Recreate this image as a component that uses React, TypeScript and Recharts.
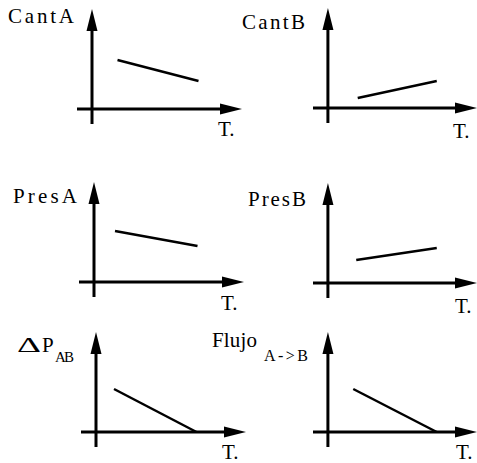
import React from 'react';
import { LineChart, Line, XAxis, YAxis, ReferenceLine } from 'recharts';

// each panel: a short straight trend over time T.
const cantA = [{ t: 1.7, v: 4.9 }, { t: 7.1, v: 2.8 }];
const cantB = [{ t: 2.0, v: 1.0 }, { t: 7.3, v: 2.7 }];
const presA = [{ t: 1.4, v: 5.1 }, { t: 6.9, v: 3.6 }];
const presB = [{ t: 1.9, v: 2.3 }, { t: 7.3, v: 3.5 }];
const deltaP = [{ t: 1.2, v: 4.3 }, { t: 6.7, v: 0 }];
const flujo = [{ t: 1.7, v: 4.3 }, { t: 7.3, v: 0 }];

const T_DOMAIN = [-1, 10];
const V_DOMAIN = [-1.5, 10];

const FONT = 'Liberation Serif, Times New Roman, serif';

// axis drawn through the origin, with a filled arrowhead at the far end
const ArrowAxis = (props: any) => {
  const { x1, y1, x2, y2 } = props;
  const horizontal = Math.abs(y1 - y2) < 0.5;
  const len = 22;
  const half = 5.5;
  if (horizontal) {
    const a = Math.min(x1, x2);
    const tip = Math.max(x1, x2);
    return (
      <g>
        <line x1={a} y1={y1} x2={tip - 10} y2={y1} stroke="#000" strokeWidth={3} />
        <polygon points={`${tip},${y1} ${tip - len},${y1 - half} ${tip - len},${y1 + half}`} fill="#000" />
      </g>
    );
  }
  const bottom = Math.max(y1, y2);
  const tip = Math.min(y1, y2);
  return (
    <g>
      <line x1={x1} y1={bottom} x2={x1} y2={tip + 10} stroke="#000" strokeWidth={3} />
      <polygon points={`${x1},${tip} ${x1 - half},${tip + len} ${x1 + half},${tip + len}`} fill="#000" />
    </g>
  );
};

const Panel = ({ data, left, top, width = 165 }: { data: { t: number; v: number }[]; left: number; top: number; width?: number }) => (
  <div style={{ position: 'absolute', left, top }}>
    <LineChart width={width} height={115} data={data} margin={{ top: 0, right: 0, bottom: 0, left: 0 }}>
      <XAxis type="number" dataKey="t" domain={T_DOMAIN} hide allowDataOverflow />
      <YAxis type="number" domain={V_DOMAIN} hide allowDataOverflow />
      <ReferenceLine y={0} shape={ArrowAxis} />
      <ReferenceLine x={0} shape={ArrowAxis} />
      <Line dataKey="v" stroke="#000" strokeWidth={2.5} dot={false} isAnimationActive={false} />
    </LineChart>
  </div>
);

export default function App() {
  const txt = { style: { fontFamily: FONT }, fill: '#000' };
  return (
    <div style={{ position: 'absolute', left: 0, top: 0, width: 477, height: 463, background: '#fff', overflow: 'hidden' }}>
      <Panel data={cantA} left={77} top={9} />
      <Panel data={cantB} left={313} top={8} width={164} />
      <Panel data={presA} left={79} top={182} />
      <Panel data={presB} left={313} top={183} width={164} />
      <Panel data={deltaP} left={81} top={332} />
      <Panel data={flujo} left={313} top={332} width={164} />
      <svg width={477} height={463} style={{ position: 'absolute', left: 0, top: 0, pointerEvents: 'none' }}>
        <text {...txt} x={8} y={23} fontSize={21} textLength={66} lengthAdjust="spacing">CantA</text>
        <text {...txt} x={242} y={29} fontSize={21} textLength={63} lengthAdjust="spacing">CantB</text>
        <text {...txt} x={13} y={203} fontSize={21} textLength={64} lengthAdjust="spacing">PresA</text>
        <text {...txt} x={248} y={206} fontSize={21} textLength={58} lengthAdjust="spacing">PresB</text>
        <text {...txt} x={17} y={352} fontSize={20} textLength={24} lengthAdjust="spacingAndGlyphs">Δ</text>
        <text {...txt} x={42} y={352} fontSize={21}>P</text>
        <text {...txt} x={55} y={362} fontSize={15} textLength={19} lengthAdjust="spacing">AB</text>
        <text {...txt} x={212} y={347} fontSize={21} textLength={45} lengthAdjust="spacing">Flujo</text>
        <text {...txt} x={264} y={361} fontSize={16} textLength={44} lengthAdjust="spacing">A-&gt;B</text>
        <text {...txt} x={218} y={136} fontSize={21}>T.</text>
        <text {...txt} x={453} y={138} fontSize={21}>T.</text>
        <text {...txt} x={221} y={310} fontSize={21}>T.</text>
        <text {...txt} x={455} y={313} fontSize={21}>T.</text>
        <text {...txt} x={222} y={459} fontSize={21}>T.</text>
        <text {...txt} x={456} y={459} fontSize={21}>T.</text>
      </svg>
    </div>
  );
}
